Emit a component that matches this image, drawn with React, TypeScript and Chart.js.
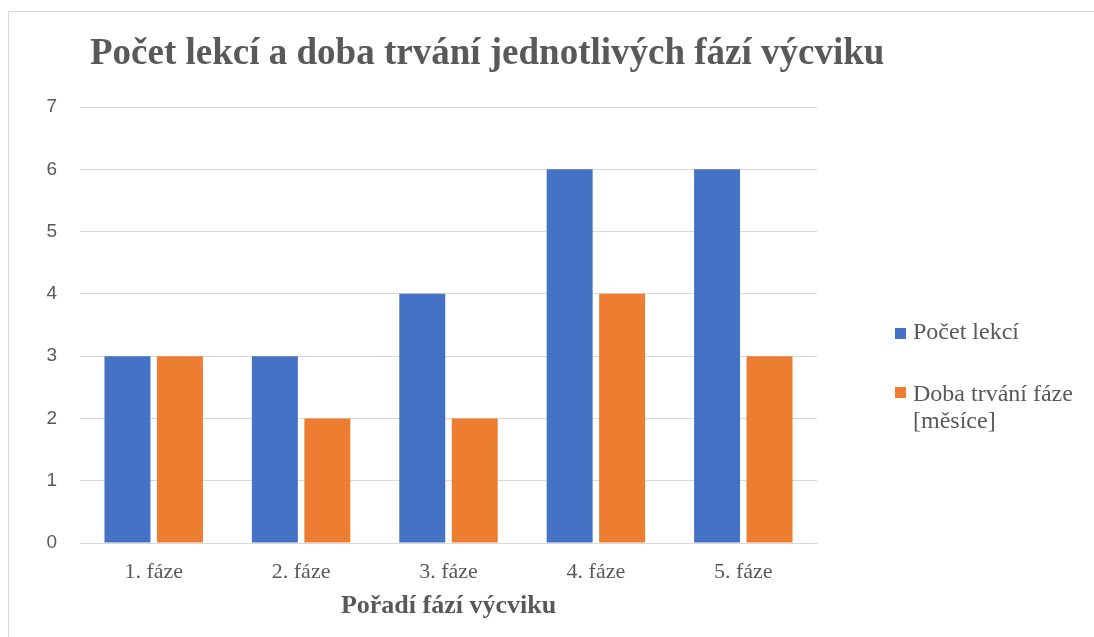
import React, { useEffect, useRef } from "react";
import { Chart, registerables } from "chart.js";

Chart.register(...registerables);

const TITLE = "Počet lekcí a doba trvání jednotlivých fází výcviku";
const X_TITLE = "Pořadí fází výcviku";
const categories = ["1. fáze", "2. fáze", "3. fáze", "4. fáze", "5. fáze"];
const lessonCount = [3, 3, 4, 6, 6];
const phaseDuration = [3, 2, 2, 4, 3];
const seriesNames = ["Počet lekcí", "Doba trvání fáze [měsíce]"];
const legendLines = [["Počet lekcí"], ["Doba trvání fáze", "[měsíce]"]];
const yTicks = [0, 1, 2, 3, 4, 5, 6, 7];

const BLUE = "#4472C4";
const ORANGE = "#ED7D31";
const TEXT = "#595959";
const GRID = "#D9D9D9";
const SERIF = "'Liberation Serif', 'Times New Roman', serif";
const SANS = "'Liberation Sans', Arial, sans-serif";

export default function App() {
  const ref = useRef<HTMLCanvasElement | null>(null);

  useEffect(() => {
    const canvas = ref.current;
    if (!canvas) return;
    const chart = new Chart(canvas, {
      type: "bar",
      data: {
        labels: categories,
        datasets: [
          {
            label: seriesNames[0],
            data: lessonCount,
            backgroundColor: BLUE,
            categoryPercentage: 0.712,
            barPercentage: 0.876,
          },
          {
            label: seriesNames[1],
            data: phaseDuration,
            backgroundColor: ORANGE,
            categoryPercentage: 0.712,
            barPercentage: 0.876,
          },
        ],
      },
      options: {
        responsive: false,
        animation: false,
        layout: { padding: { left: 0, right: 277, top: 95, bottom: 15.4 } },
        plugins: {
          legend: { display: false },
          title: { display: false },
          tooltip: { enabled: false },
        },
        scales: {
          x: {
            afterFit: (s: any) => {
              s.height = 78.6;
            },
            grid: { display: false, drawTicks: false },
            border: { display: true, color: GRID, width: 1 },
            ticks: {
              color: TEXT,
              padding: 16,
              font: { family: SERIF, size: 22 },
            },
            title: {
              display: true,
              text: X_TITLE,
              color: TEXT,
              padding: { top: 0, bottom: 0 },
              font: { family: SERIF, size: 26, weight: "bold" },
            },
          },
          y: {
            min: 0,
            max: 7,
            afterFit: (s: any) => {
              s.width = 71;
            },
            afterBuildTicks: (s: any) => {
              s.ticks = yTicks.map((v) => ({ value: v }));
            },
            grid: { color: GRID, lineWidth: 1, drawTicks: false },
            border: { display: false },
            ticks: {
              color: TEXT,
              padding: 23,
              font: { family: SANS, size: 19 },
            },
          },
        },
      },
    });
    return () => chart.destroy();
  }, []);

  return (
    <div
      style={{
        position: "fixed",
        left: 8,
        top: 11,
        width: 1100,
        height: 640,
        border: "1px solid #D9D9D9",
        background: "#fff",
      }}
    >
      <canvas
        ref={ref}
        width={1085}
        height={625}
        style={{ position: "absolute", left: 0, top: 0, width: 1085, height: 625 }}
      />
      <div
        style={{
          position: "absolute",
          left: 81,
          top: 21,
          fontFamily: SERIF,
          fontWeight: "bold",
          fontSize: 37,
          lineHeight: 1,
          color: TEXT,
          whiteSpace: "nowrap",
        }}
      >
        {TITLE}
      </div>
      {legendLines.map((lines, i) => (
        <div key={i}>
          <div
            style={{
              position: "absolute",
              left: 886,
              top: i === 0 ? 316 : 375,
              width: 11,
              height: 11,
              background: i === 0 ? BLUE : ORANGE,
            }}
          />
          <div
            style={{
              position: "absolute",
              left: 904,
              top: i === 0 ? 306.4 : 368.4,
              fontFamily: SERIF,
              fontSize: 24,
              lineHeight: "27px",
              color: TEXT,
              whiteSpace: "nowrap",
            }}
          >
            {lines.map((l, j) => (
              <div key={j}>{l}</div>
            ))}
          </div>
        </div>
      ))}
    </div>
  );
}
